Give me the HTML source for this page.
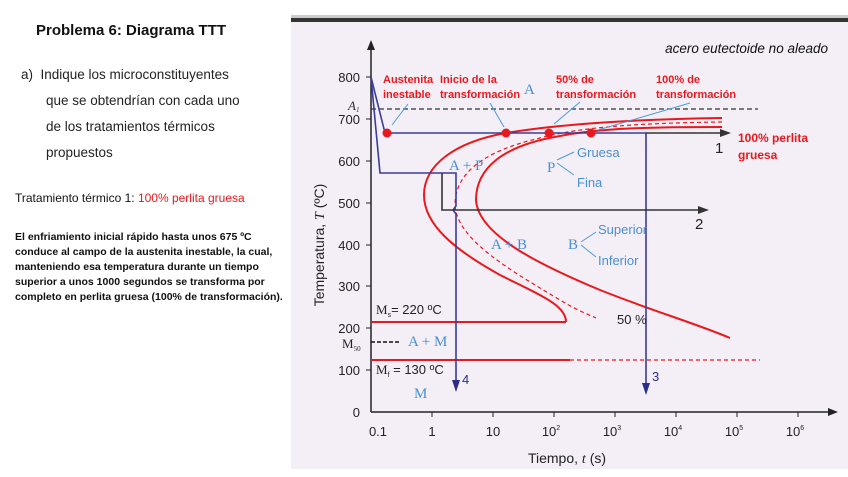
<!DOCTYPE html>
<html><head><meta charset="utf-8"><style>
body{margin:0;width:848px;height:477px;background:#fff;overflow:hidden;position:relative;font-family:"Liberation Sans",sans-serif}
.t{position:absolute;white-space:nowrap}
</style></head><body>
<div class="t" style="left:36px;top:22px;font-size:15px;font-weight:bold;color:#111">Problema 6: Diagrama TTT</div>
<div class="t" style="left:21px;top:62px;font-size:13.5px;color:#222;line-height:26px">a)&nbsp;&nbsp;Indique los microconstituyentes</div>
<div class="t" style="left:46px;top:88px;font-size:13.5px;color:#222;line-height:26px">que se obtendrían con cada uno<br>de los tratamientos térmicos<br>propuestos</div>
<div class="t" style="left:15px;top:191px;font-size:12px;color:#111">Tratamiento térmico 1: <span style="color:#e8191e">100% perlita gruesa</span></div>
<div class="t" style="left:15px;top:230px;font-size:10.5px;font-weight:bold;color:#111;line-height:15px">El enfriamiento inicial rápido hasta unos 675 ºC<br>conduce al campo de la austenita inestable, la cual,<br>manteniendo esa temperatura durante un tiempo<br>superior a unos 1000 segundos se transforma por<br>completo en perlita gruesa (100% de transformación).</div>
<svg style="position:absolute;left:0;top:0" width="848" height="477" font-family="Liberation Sans,sans-serif">
<rect x="291" y="22" width="557" height="447" fill="#f4eff6"/>
<rect x="291" y="18" width="557" height="4" fill="#333"/>
<rect x="291" y="15" width="557" height="3" fill="#ccc"/>
<line x1="371" y1="412" x2="371" y2="48" stroke="#222" stroke-width="1.5"/>
<polygon points="367,50 371,40 375,50" fill="#222"/>
<line x1="371" y1="412" x2="830" y2="412" stroke="#222" stroke-width="1.5"/>
<polygon points="828,408 838,412 828,416" fill="#222"/>
<g stroke="#222" stroke-width="1">
<line x1="366" y1="77" x2="371" y2="77"/><line x1="366" y1="119" x2="371" y2="119"/><line x1="366" y1="161" x2="371" y2="161"/><line x1="366" y1="203" x2="371" y2="203"/><line x1="366" y1="245" x2="371" y2="245"/><line x1="366" y1="286" x2="371" y2="286"/><line x1="366" y1="328" x2="371" y2="328"/><line x1="366" y1="370" x2="371" y2="370"/>
<line x1="432" y1="412" x2="432" y2="417"/><line x1="493" y1="412" x2="493" y2="417"/><line x1="554" y1="412" x2="554" y2="417"/><line x1="615" y1="412" x2="615" y2="417"/><line x1="676" y1="412" x2="676" y2="417"/><line x1="737" y1="412" x2="737" y2="417"/><line x1="798" y1="412" x2="798" y2="417"/>
</g>
<g font-size="13" fill="#222" text-anchor="end">
<text x="360" y="82">800</text><text x="360" y="124">700</text><text x="360" y="166">600</text><text x="360" y="208">500</text><text x="360" y="250">400</text><text x="360" y="291">300</text><text x="360" y="333">200</text><text x="360" y="375">100</text><text x="360" y="417">0</text>
</g>
<g font-size="13" fill="#222" text-anchor="middle">
<text x="378" y="436">0.1</text><text x="432" y="436">1</text><text x="493" y="436">10</text>
<text x="551" y="436">10<tspan font-size="7" dy="-6">2</tspan></text>
<text x="612" y="436">10<tspan font-size="7" dy="-6">3</tspan></text>
<text x="673" y="436">10<tspan font-size="7" dy="-6">4</tspan></text>
<text x="734" y="436">10<tspan font-size="7" dy="-6">5</tspan></text>
<text x="795" y="436">10<tspan font-size="7" dy="-6">6</tspan></text>
<text x="567" y="463" font-size="14">Tiempo, <tspan font-style="italic" font-family="Liberation Serif">t</tspan> (s)</text>
</g>
<text transform="translate(324,245) rotate(-90)" font-size="14" fill="#222" text-anchor="middle">Temperatura, <tspan font-style="italic" font-family="Liberation Serif">T</tspan> (ºC)</text>
<text x="828" y="53" font-size="13.5" font-style="italic" fill="#111" text-anchor="end">acero eutectoide no aleado</text>
<line x1="371" y1="109" x2="758" y2="109" stroke="#333" stroke-width="1.3" stroke-dasharray="5,3"/>
<text x="348" y="110" font-size="13" font-style="italic" font-family="Liberation Serif" fill="#333">A<tspan font-size="7" dy="2">1</tspan></text>
<g fill="none" stroke="#e8191e" stroke-width="2">
<path d="M722,118 C640,119 560,124 506,133 C455,142 424,165 424,195 C424,225 455,250 500,275 C540,295 566,305 566,322"/>
<path d="M722,127 C650,127 600,128 560,136 C500,146 476,170 476,200 C478,235 540,265 600,290 C650,310 700,325 730,338"/>
<line x1="371" y1="322" x2="566" y2="322"/>
<line x1="371" y1="360" x2="570" y2="360"/>
</g>
<g fill="none" stroke="#e8191e" stroke-width="1.2" stroke-dasharray="4,3">
<path d="M722,122 C640,123 580,127 540,138 C480,152 455,175 455,205 C457,240 510,270 560,300 C580,312 590,315 596,318"/>
<line x1="570" y1="360" x2="760" y2="360"/>
</g>
<line x1="371" y1="342" x2="401" y2="342" stroke="#111" stroke-width="1.5" stroke-dasharray="4,2"/>
<g fill="none" stroke="#3b3b99" stroke-width="1.6">
<polyline points="371,77 385,133 646,133 646,385"/>
<polyline points="371,77 380,173 456,173 456,206 453,210 456,214 456,382"/>
</g>
<polygon points="642,383 646,395 650,383" fill="#2d2d8c"/>
<polygon points="452,380 456,392 460,380" fill="#2d2d8c"/>
<g fill="none" stroke="#333" stroke-width="1.6">
<line x1="646" y1="133" x2="722" y2="133"/>
<polyline points="442,173 442,210 700,210"/>
</g>
<polygon points="720,129 731,133 720,137" fill="#333"/>
<polygon points="698,206 709,210 698,214" fill="#333"/>
<g font-size="15" fill="#222"><text x="715" y="153">1</text><text x="695" y="229">2</text></g>
<g font-size="13" fill="#2d2d8c"><text x="652" y="381">3</text><text x="462" y="384">4</text></g>
<g fill="#e8191e"><circle cx="387" cy="133" r="4.5"/><circle cx="506" cy="133" r="4.5"/><circle cx="549" cy="133" r="4.5"/><circle cx="591" cy="133" r="4.5"/></g>
<g font-size="11" font-weight="bold" fill="#e8191e">
<text x="383" y="83">Austenita</text><text x="383" y="98">inestable</text>
<text x="440" y="83">Inicio de la</text><text x="440" y="98">transformación</text>
<text x="556" y="83">50% de</text><text x="556" y="98">transformación</text>
<text x="656" y="83">100% de</text><text x="656" y="98">transformación</text>
<text x="738" y="142" font-size="12">100% perlita</text><text x="738" y="159" font-size="12">gruesa</text>
</g>
<g stroke="#4a9ad8" stroke-width="1" fill="none">
<line x1="408" y1="104" x2="392" y2="125"/><line x1="490" y1="103" x2="504" y2="127"/>
<line x1="580" y1="102" x2="554" y2="124"/><line x1="690" y1="103" x2="598" y2="130"/>
<polyline points="557,160 574,152"/><polyline points="557,163 574,175"/>
<polyline points="581,242 596,232"/><polyline points="581,245 596,257"/>
</g>
<g fill="#4a8fd0" font-size="15" font-family="Liberation Serif">
<text x="524" y="94">A</text><text x="449" y="170">A + P</text><text x="491" y="249">A + B</text>
<text x="547" y="172">P</text><text x="568" y="249">B</text><text x="408" y="346">A + M</text><text x="414" y="398">M</text>
</g>
<g fill="#4a8fd0" font-size="13"><text x="577" y="157">Gruesa</text><text x="577" y="187">Fina</text><text x="598" y="234">Superior</text><text x="598" y="265">Inferior</text></g>
<g fill="#222" font-size="13">
<text x="376" y="314"><tspan font-family="Liberation Serif">M</tspan><tspan font-size="7" dy="3">s</tspan><tspan dy="-3">= 220 ºC</tspan></text>
<text x="376" y="374"><tspan font-family="Liberation Serif">M</tspan><tspan font-size="7" dy="3">f</tspan><tspan dy="-3"> = 130 ºC</tspan></text>
<text x="617" y="324">50 %</text>
<text x="342" y="348" font-family="Liberation Serif">M<tspan font-size="7" dy="3">50</tspan></text>
</g>
</svg>
</body></html>
